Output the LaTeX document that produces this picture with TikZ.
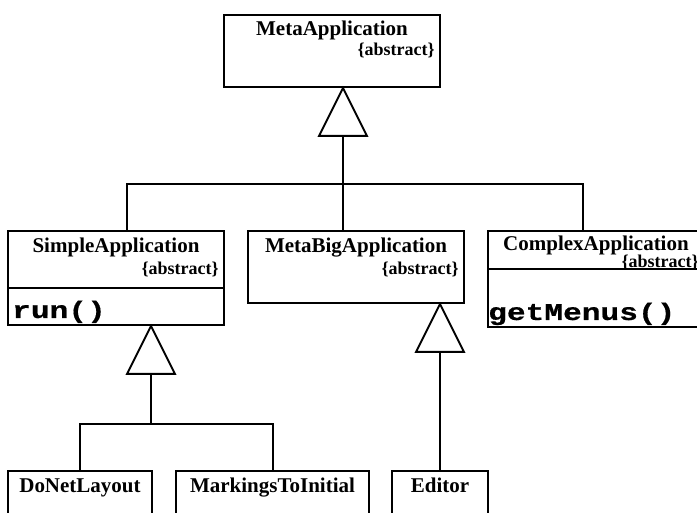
\documentclass[tikz,border=0pt]{standalone}
\usepackage{fontspec}
\setmainfont{Liberation Serif}
\newfontfamily\methfont[FakeStretch=1.3,FakeBold=0.6]{Liberation Mono}
\usetikzlibrary{calc}
\begin{document}
\begin{tikzpicture}[x=1pt,y=-1pt,
  box/.style={draw, line width=2pt, rectangle, inner sep=0pt, anchor=north west},
  ttl/.style={font=\fontsize{21}{21}\selectfont\bfseries, anchor=base, inner sep=0pt},
  abs/.style={font=\fontsize{18}{18}\selectfont\bfseries, anchor=base east, inner sep=0pt},
  meth/.style={font=\fontsize{24}{24}\selectfont\methfont\bfseries, anchor=base west, inner sep=0pt},
  conn/.style={line width=2pt},
  gen/.style={draw, line width=2pt, fill=white, line join=miter}]
\useasboundingbox (0,0) rectangle (697,513);
\clip (0,0) rectangle (697,513);
% class boxes
\node[box, minimum width=216pt, minimum height=72pt] (meta) at (223,14) {};
\node[box, minimum width=216pt, minimum height=94pt] (simple) at (7,230) {};
\node[box, minimum width=216pt, minimum height=72pt] (metabig) at (247,230) {};
\node[box, minimum width=216pt, minimum height=96pt] (complex) at (487,230) {};
\node[box, minimum width=144pt, minimum height=60pt] (donet) at (7,470) {};
\node[box, minimum width=193pt, minimum height=60pt] (mark) at (175,470) {};
\node[box, minimum width=96pt, minimum height=60pt] (editor) at (391,470) {};
% titles
\node[ttl] (metaT) at ($(meta.north)+(0,22)$) {MetaApplication};
\node[abs] (metaA) at ($(meta.north east)+(-6,42)$) {\{abstract\}};
\node[ttl] (simpleT) at ($(simple.north)+(0,23)$) {SimpleApplication};
\node[abs] (simpleA) at ($(simple.north east)+(-6,45)$) {\{abstract\}};
\node[ttl] (metabigT) at ($(metabig.north)+(0,23)$) {MetaBigApplication};
\node[abs] (metabigA) at ($(metabig.north east)+(-6,45)$) {\{abstract\}};
\node[ttl] (complexT) at ($(complex.north)+(0,21)$) {ComplexApplication};
\node[abs] (complexA) at ($(complex.north east)+(-6,38)$) {\{abstract\}};
\node[ttl] (donetT) at ($(donet.north)+(0,22)$) {DoNetLayout};
\node[ttl] (markT) at ($(mark.north)+(0,22)$) {MarkingsToInitial};
\node[ttl] (editorT) at ($(editor.north)+(0,22)$) {Editor};
% compartments
\draw[conn] ($(simple.north west)+(0,58)$) -- ($(simple.north east)+(0,58)$);
\draw[conn] ($(complex.north west)+(0,39)$) -- ($(complex.north east)+(0,39)$);
\node[meth] (run) at ($(simple.north west)+(5,88)$) {run()};
\begin{scope}
\clip ($(complex.north west)+(0,40)$) rectangle ($(complex.south east)+(0,-1)$);
\node[meth] (getm) at ($(complex.north west)+(1,90)$) {getMenus()};
\end{scope}
% generalisation: MetaApplication
\coordinate (apex1) at ($(meta.south west)+(120,0)$);
\coordinate (bar1) at ($(apex1)+(0,96)$);
\draw[conn] ($(apex1)+(0,48)$) -- (bar1);
\draw[conn] (bar1) -| ($(simple.north west)+(120,0)$);
\draw[conn] (bar1) -- ($(metabig.north west)+(96,0)$);
\draw[conn] (bar1) -| ($(complex.north west)+(96,0)$);
\draw[gen] (apex1) -- ++(-24,48) -- ++(48,0) -- cycle;
% generalisation: SimpleApplication
\coordinate (apex2) at ($(simple.south west)+(144,0)$);
\coordinate (bar2) at ($(apex2)+(0,98)$);
\draw[conn] ($(apex2)+(0,48)$) -- (bar2);
\draw[conn] (bar2) -| (donet.north);
\draw[conn] (bar2) -| (mark.north);
\draw[gen] (apex2) -- ++(-24,48) -- ++(48,0) -- cycle;
% generalisation: MetaBigApplication
\coordinate (apex3) at (metabig.south -| editor.north);
\draw[conn] ($(apex3)+(0,48)$) -- (editor.north);
\draw[gen] (apex3) -- ++(-24,48) -- ++(48,0) -- cycle;
\end{tikzpicture}
\end{document}
